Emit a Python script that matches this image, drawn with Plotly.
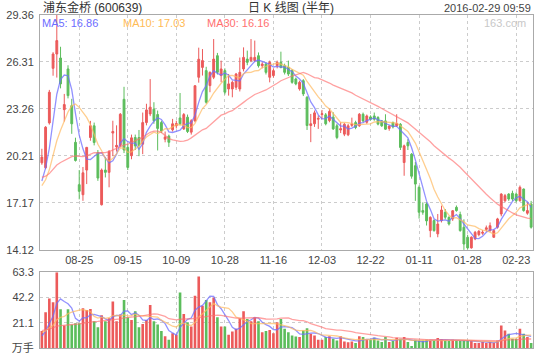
import numpy as np
import pandas as pd
import plotly.graph_objects as go

# ---------------- data ----------------
start_date = "2015-08-11"
end_date = "2016-02-29"
holidays = ["2015-09-03", "2015-09-04", "2015-10-01", "2015-10-02", "2015-10-05",
            "2015-10-06", "2015-10-07", "2016-01-01", "2016-02-08", "2016-02-09",
            "2016-02-10", "2016-02-11", "2016-02-12"]

opens = [19.77, 19.45, 22.36, 25.90, 26.83, 26.57, 23.22, 25.86, 23.48, 21.10,
         18.35, 17.70, 19.30, 21.41, 22.17, 20.44, 17.05, 19.30, 19.15, 21.70,
         20.80, 20.90, 23.89, 20.77, 20.23, 21.41, 21.41, 20.98, 22.38, 22.94,
         23.25, 22.90, 22.38, 21.30, 21.50, 21.91, 22.17, 22.68, 21.97, 22.73,
         21.76, 22.49, 25.32, 25.96, 25.75, 24.78, 25.32, 26.72, 25.43, 25.75,
         24.56, 24.56, 24.67, 24.56, 25.86, 26.50, 26.40, 26.40, 26.72, 26.07,
         26.18, 25.32, 25.43, 26.07, 26.29, 26.07, 25.96, 25.75, 25.21, 24.56,
         25.10, 24.02, 22.19, 22.30, 22.60, 22.90, 22.88, 22.51, 22.73, 22.17,
         21.90, 21.63, 21.59, 22.20, 22.38, 22.17, 22.92, 22.40, 22.75, 22.81,
         22.71, 22.49, 22.49, 22.00, 22.38, 22.17, 22.27, 19.79, 21.09, 20.33,
         19.58, 18.18, 16.67, 17.10, 15.37, 16.02, 15.16, 16.02, 16.56, 16.23,
         16.13, 16.88, 16.41, 15.59, 14.94, 14.25, 14.83, 15.11, 15.20, 15.45,
         15.37, 14.94, 15.59, 16.45, 17.31, 17.74, 17.79, 17.74, 17.31, 18.07,
         16.50, 17.10]
highs = [20.68, 22.15, 24.50, 26.95, 29.36, 27.30, 24.24, 26.10, 23.92, 21.40,
         19.30, 19.50, 20.80, 22.49, 22.38, 20.60, 19.40, 20.12, 20.60, 22.50,
         22.20, 23.00, 24.70, 21.00, 21.60, 21.60, 21.90, 23.03, 23.60, 25.20,
         23.70, 23.16, 22.50, 21.80, 21.60, 22.62, 22.50, 24.30, 23.00, 22.90,
         22.60, 24.80, 27.24, 27.15, 26.00, 25.70, 27.80, 26.90, 26.40, 25.90,
         25.53, 25.10, 25.60, 26.60, 27.26, 27.05, 27.80, 27.70, 26.93, 26.30,
         26.30, 26.40, 25.90, 26.40, 26.98, 26.20, 26.40, 25.85, 25.30, 25.10,
         25.20, 24.10, 22.94, 23.16, 22.84, 23.20, 23.00, 23.27, 23.05, 22.30,
         22.40, 22.35, 22.30, 22.70, 22.50, 23.00, 23.03, 22.90, 22.85, 23.03,
         22.80, 22.55, 22.92, 22.20, 22.45, 22.92, 22.35, 20.95, 21.30, 20.40,
         19.82, 18.30, 17.20, 17.20, 16.30, 16.10, 16.45, 16.99, 16.77, 16.30,
         16.70, 17.00, 16.60, 16.10, 15.10, 15.00, 15.35, 15.40, 15.40, 15.70,
         15.90, 15.45, 16.20, 17.80, 17.75, 17.80, 17.96, 17.85, 18.30, 18.10,
         17.20, 17.30]
lows = [19.64, 19.35, 22.25, 25.42, 25.30, 24.60, 22.45, 23.95, 21.65, 19.85,
        17.40, 17.30, 18.39, 21.20, 20.90, 18.60, 17.00, 18.82, 18.18, 20.20,
        20.50, 20.80, 20.40, 19.30, 20.00, 20.60, 20.20, 20.33, 22.20, 22.80,
        22.30, 20.57, 21.70, 21.10, 20.80, 21.80, 22.00, 22.20, 21.90, 21.70,
        21.60, 22.40, 24.97, 25.43, 23.60, 24.35, 25.20, 25.50, 25.00, 24.20,
        24.13, 24.02, 24.50, 24.40, 25.70, 26.10, 26.30, 26.30, 25.95, 25.90,
        25.50, 24.99, 25.30, 25.90, 25.90, 25.50, 25.40, 24.90, 24.80, 24.45,
        24.10, 21.90, 21.11, 22.10, 21.97, 22.60, 22.20, 22.40, 21.90, 21.30,
        21.70, 21.50, 21.50, 22.10, 21.95, 22.10, 22.40, 22.30, 22.50, 22.50,
        22.20, 22.10, 21.90, 21.85, 22.00, 22.10, 20.60, 18.93, 20.60, 18.74,
        17.30, 16.15, 16.40, 15.70, 14.94, 15.30, 14.94, 15.90, 16.10, 15.70,
        16.00, 16.60, 15.30, 14.12, 14.15, 14.20, 14.75, 15.00, 15.10, 15.30,
        15.30, 14.90, 15.50, 16.30, 17.20, 17.30, 17.30, 17.20, 17.25, 16.60,
        16.40, 15.50]
closes = [20.14, 22.08, 24.35, 26.83, 27.70, 24.89, 23.55, 24.13, 22.30, 19.92,
          17.92, 19.12, 20.77, 22.17, 21.09, 18.78, 19.30, 19.15, 20.50, 21.80,
          20.90, 22.92, 20.60, 19.47, 21.39, 20.87, 20.90, 22.38, 23.20, 23.38,
          22.50, 22.00, 21.84, 21.45, 21.10, 22.30, 22.32, 22.30, 22.90, 21.80,
          22.50, 24.77, 26.49, 26.40, 23.70, 25.64, 26.50, 25.64, 25.86, 24.35,
          24.89, 24.99, 25.53, 25.64, 26.61, 26.29, 26.61, 26.61, 26.07, 26.18,
          25.64, 26.29, 25.75, 26.29, 25.96, 25.64, 25.53, 24.99, 24.89, 24.99,
          24.24, 22.19, 22.30, 23.01, 22.65, 22.95, 22.30, 23.10, 21.97, 21.41,
          21.98, 22.27, 22.17, 22.28, 22.06, 22.92, 22.49, 22.81, 22.60, 22.60,
          22.28, 22.17, 21.95, 22.15, 22.10, 22.32, 20.77, 20.87, 20.87, 18.90,
          18.39, 16.56, 16.56, 16.00, 16.23, 15.37, 15.80, 16.71, 16.24, 15.80,
          16.66, 16.67, 15.37, 14.50, 14.25, 14.94, 15.26, 15.33, 15.26, 15.55,
          15.69, 15.37, 16.13, 17.74, 17.64, 17.42, 17.42, 17.31, 18.18, 16.67,
          16.67, 15.59]
volumes = [14.1, 29.8, 41.4, 38.1, 63.3, 32.3, 18.8, 32.3, 19.6, 20.7,
           20.7, 33.1, 31.7, 32.5, 22.3, 17.4, 27.3, 22.3, 24.8, 38.9,
           22.3, 27.9, 40.0, 25.6, 23.4, 30.6, 17.4, 20.1, 23.4, 35.9,
           22.3, 19.6, 14.1, 9.9, 6.9, 12.4, 11.0, 46.3, 28.4, 21.5,
           17.9, 43.6, 59.6, 35.3, 40.0, 38.1, 42.2, 25.6, 17.9, 17.9,
           11.0, 13.8, 16.0, 24.8, 30.6, 24.3, 22.3, 25.6, 22.3, 13.2,
           14.1, 15.0, 12.4, 21.5, 24.3, 16.0, 13.2, 10.5, 9.7, 9.1,
           14.6, 16.5, 11.9, 10.5, 6.9, 6.9, 9.1, 9.9, 7.7, 6.3,
           9.9, 5.5, 4.7, 5.5, 4.1, 9.9, 9.1, 7.2, 6.9, 8.6,
           6.3, 5.0, 9.1, 5.0, 5.8, 8.6, 7.7, 9.1, 5.0, 1.7,
           6.9, 6.3, 6.3, 6.9, 6.3, 6.3, 8.3, 7.2, 6.3, 5.8,
           6.9, 6.3, 5.8, 6.3, 5.8, 5.8, 4.1, 4.1, 5.0, 4.1,
           5.0, 4.1, 6.3, 18.8, 14.6, 11.9, 7.7, 7.7, 16.0, 11.9,
           9.1, 4.1]
# closes/volumes before the visible window (estimated from where the MA lines start)
pre_close = [19.6, 19.2, 18.7, 19.3, 19.9, 20.1, 19.5, 19.0, 18.6, 18.9,
             19.4, 19.1, 18.8, 18.5, 18.9, 19.2, 18.8, 18.6, 18.4, 19.1,
             18.3, 17.9, 17.7, 18.0, 18.1, 17.8, 18.0, 18.3, 18.7]
pre_vol = [18, 14, 12, 16, 20, 15, 13, 17, 14, 12, 15, 18, 16, 14, 13,
           17, 15, 16, 14, 19, 17, 16, 18, 15, 14, 10, 9, 8, 9]

tick_dates = ["2015-08-25", "2015-09-15", "2015-10-09", "2015-10-28", "2015-11-16",
              "2015-12-03", "2015-12-22", "2016-01-11", "2016-01-28", "2016-02-23"]
tick_labels = ["08-25", "09-15", "10-09", "10-28", "11-16",
               "12-03", "12-22", "01-11", "01-28", "02-23"]
price_tick_labels = ["14.12", "17.17", "20.21", "23.26", "26.31", "29.36"]
ma_windows = [5, 10, 30]
ma_legend = ["MA5: 16.86", "MA10: 17.03", "MA30: 16.16"]
title_left = "浦东金桥 (600639)"
title_mid = "日 K 线图 (半年)"
title_right = "2016-02-29 09:59"
watermark = "163.com"
vol_unit = "万手"

# ---------------- build ----------------
days = pd.bdate_range(start_date, end_date)
dates = [d.strftime("%Y-%m-%d") for d in days if d.strftime("%Y-%m-%d") not in holidays]
assert len(dates) == len(closes)

RED = "#ec5a5a"
GREEN = "#5cbd5c"
MA_COLORS = ["rgba(110,110,255,0.75)", "rgba(255,185,95,0.7)", "rgba(255,110,110,0.65)"]
MA_TEXT = ["#6c6cff", "#ffbb55", "#ff6f6f"]
GRID = "#cccccc"
BORDER = "#aaaaaa"
FONT = "Liberation Sans, Arial, Noto Sans CJK SC, sans-serif"

W, H = 540, 360
L, R, T, B = 38, 6, 15, 9
PW, PH = W - L - R, H - T - B


def px(x):
    return (x - L) / PW


def py(y):
    return (H - B - y) / PH


full_c = pd.Series(pre_close + closes)
full_v = pd.Series(pre_vol + volumes)
n_pre = len(pre_close)

fig = go.Figure()
fig.add_trace(go.Candlestick(
    x=dates, open=opens, high=highs, low=lows, close=closes,
    increasing=dict(line=dict(color=RED, width=1), fillcolor=RED),
    decreasing=dict(line=dict(color=GREEN, width=1), fillcolor=GREEN),
    whiskerwidth=0, hoverinfo="skip", showlegend=False, xaxis="x", yaxis="y"))

for w, c in zip(ma_windows, MA_COLORS):
    ma = full_c.rolling(w).mean().iloc[n_pre:].values
    fig.add_trace(go.Scatter(x=dates, y=ma, mode="lines", line=dict(color=c, width=1.3),
                             hoverinfo="skip", showlegend=False, xaxis="x", yaxis="y"))

vol_colors = [RED if c >= o else GREEN for o, c in zip(opens, closes)]
fig.add_trace(go.Bar(x=dates, y=volumes, marker=dict(color=vol_colors, line=dict(width=0)),
                     width=0.7, hoverinfo="skip", showlegend=False, xaxis="x2", yaxis="y2"))
for w, c in zip(ma_windows, MA_COLORS):
    ma = full_v.rolling(w).mean().iloc[n_pre:].values
    fig.add_trace(go.Scatter(x=dates, y=ma, mode="lines", line=dict(color=c, width=1.3),
                             hoverinfo="skip", showlegend=False, xaxis="x2", yaxis="y2"))

lo, hi = min(lows), max(highs)
price_ticks = list(np.linspace(lo, hi, len(price_tick_labels)))
vmax = max(volumes)
vol_ticks = list(np.linspace(0, vmax, 4))
vol_tick_text = [vol_unit] + [f"{v:.1f}" for v in vol_ticks[1:]]

main_bottom = py(252)
vol_top = py(274.5)

common_x = dict(type="category", range=[-0.5, len(dates) - 0.5], tickvals=tick_dates,
                showgrid=True, gridcolor=GRID, griddash="3px,3px", gridwidth=1,
                showline=True, mirror=True, linecolor=BORDER, linewidth=1,
                ticks="", zeroline=False, fixedrange=True)
common_y = dict(showgrid=True, gridcolor=GRID, griddash="3px,3px", gridwidth=1,
                showline=True, mirror=True, linecolor=BORDER, linewidth=1,
                ticks="", zeroline=False, tickfont=dict(size=11, color="#444"),
                ticklabelstandoff=3, fixedrange=True)

fig.update_layout(
    width=W, height=H, margin=dict(l=L, r=R, t=T, b=B),
    paper_bgcolor="white", plot_bgcolor="white",
    font=dict(family=FONT, size=11, color="#444"),
    xaxis=dict(**common_x, domain=[0, 1], anchor="y", ticktext=tick_labels,
               tickfont=dict(size=11, color="#444"), rangeslider=dict(visible=False)),
    yaxis=dict(**common_y, domain=[main_bottom, 1], range=[lo, hi],
               tickvals=price_ticks, ticktext=price_tick_labels),
    xaxis2=dict(**common_x, domain=[0, 1], anchor="y2", showticklabels=False),
    yaxis2=dict(**common_y, domain=[0, vol_top], range=[0, vmax],
                tickvals=vol_ticks, ticktext=vol_tick_text),
    bargap=0.3,
)

ann = []
ann.append(dict(text=title_left, x=px(39), y=py(7.5), xanchor="left", yanchor="middle",
                font=dict(size=12, color="#333")))
ann.append(dict(text=title_mid, x=px(291), y=py(7.5), xanchor="center", yanchor="middle",
                font=dict(size=12, color="#333")))
ann.append(dict(text=title_right, x=px(534), y=py(7.5), xanchor="right", yanchor="middle",
                font=dict(size=11, color="#444")))
for txt, xx, col in zip(ma_legend, [38.5, 119, 204.5], MA_TEXT):
    ann.append(dict(text=txt, x=px(xx), y=py(23.5), xanchor="left", yanchor="middle",
                    font=dict(size=11, color=col)))
ann.append(dict(text=watermark, x=px(529), y=py(23), xanchor="right", yanchor="middle",
                font=dict(size=11, color="#c8c8c8")))
for a in ann:
    a.update(xref="paper", yref="paper", showarrow=False)
fig.update_layout(annotations=ann)

fig.write_html("out.html", config={"displayModeBar": False},
               post_script="document.body.style.margin='0';document.body.style.padding='0';")
